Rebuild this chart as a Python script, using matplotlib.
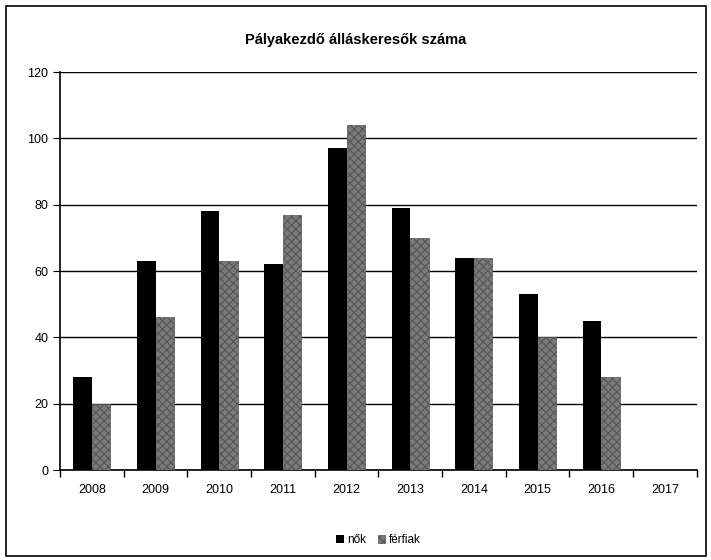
import numpy as np
import matplotlib
matplotlib.use('Agg')
import matplotlib.pyplot as plt
from matplotlib.patches import Rectangle

# data
years = ['2008', '2009', '2010', '2011', '2012', '2013', '2014', '2015', '2016', '2017']
nok = [28, 63, 78, 62, 97, 79, 64, 53, 45, 0]
ferfiak = [20, 46, 63, 77, 104, 70, 64, 40, 28, 0]

plt.rcParams['font.family'] = ['Liberation Sans', 'DejaVu Sans']
plt.rcParams['hatch.color'] = '#e8e8e8'
plt.rcParams['hatch.linewidth'] = 0.8

fig = plt.figure(figsize=(7.11, 5.6), dpi=100)
ax = fig.add_axes([0.0844, 0.1607, 0.8956, 0.7107])

x = np.arange(len(years))
w = 0.29
ax.bar(x - w / 2, nok, w, color='black', label='nők', zorder=3)
ax.bar(x + w / 2, ferfiak, w, color='#7a7a7a', hatch='xxxx', edgecolor='#555555',
       linewidth=0.5, label='férfiak', zorder=3)

ax.set_xlim(-0.5, len(years) - 0.5)
ax.set_ylim(0, 120)
ax.set_yticks(range(0, 121, 20))
ax.set_xticks(x)
ax.set_xticklabels(years, fontsize=9)
ax.set_xticks(np.arange(-0.5, len(years), 1), minor=True)
ax.tick_params(axis='x', which='major', length=0, pad=10)
ax.tick_params(axis='x', which='minor', length=5, direction='out', width=1)
ax.tick_params(axis='y', labelsize=9, length=5, direction='out')
ax.grid(axis='y', color='black', linewidth=1.0, zorder=0)
for s in ['top', 'right']:
    ax.spines[s].set_visible(False)
ax.spines['left'].set_linewidth(1.2)
ax.spines['bottom'].set_linewidth(1.2)

fig.text(0.5, 0.928, 'Pályakezdő álláskeresők száma', ha='center', va='center',
         fontsize=10.5, fontweight='bold')

ax.legend(loc='upper center', bbox_to_anchor=(0.5, -0.135), ncol=2, frameon=False,
          fontsize=8.5, handlelength=0.6, handleheight=0.6, columnspacing=1.0,
          handletextpad=0.3)

fig.patches.append(Rectangle((0.008, 0.008), 0.985, 0.982, transform=fig.transFigure,
                             fill=False, edgecolor='black', linewidth=1.2))

fig.savefig('out.png', dpi=100)
